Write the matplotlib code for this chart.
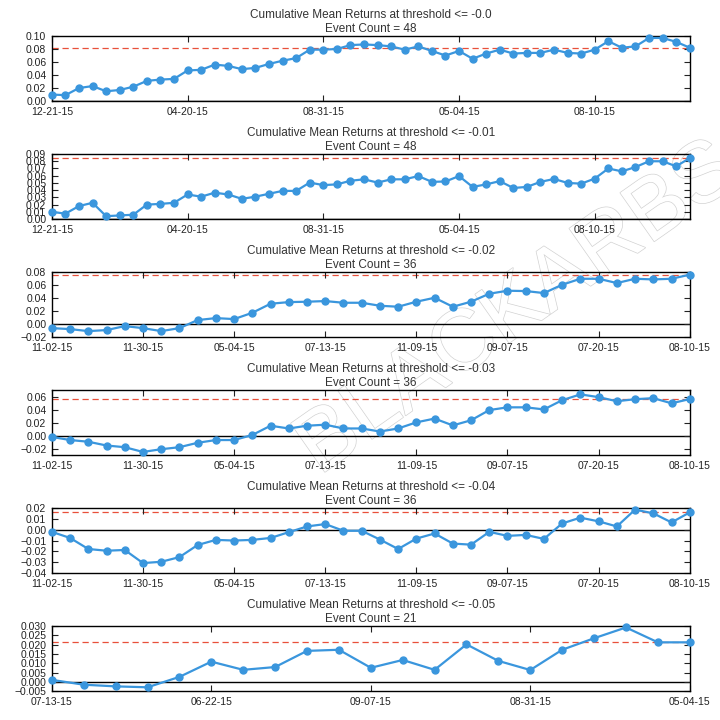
import matplotlib
matplotlib.use("Agg")
import numpy as np
import matplotlib.pyplot as plt
import matplotlib.patheffects as pe

plt.rcParams["font.family"] = ["Liberation Sans", "DejaVu Sans"]

# ---------- data ----------

thresholds = ["-0.0", "-0.01", "-0.02", "-0.03", "-0.04", "-0.05"]
event_counts = [48, 48, 36, 36, 36, 21]

ret_00 = [0.010, 0.009, 0.020, 0.023, 0.015, 0.017, 0.022, 0.031, 0.033, 0.034,
          0.047, 0.048, 0.056, 0.054, 0.049, 0.051, 0.057, 0.062, 0.066, 0.079,
          0.079, 0.080, 0.086, 0.087, 0.086, 0.084, 0.079, 0.084, 0.077, 0.070,
          0.077, 0.065, 0.073, 0.079, 0.073, 0.074, 0.074, 0.079, 0.074, 0.073,
          0.079, 0.092, 0.082, 0.084, 0.097, 0.097, 0.091, 0.082]
ret_01 = [0.010, 0.0075, 0.018, 0.0225, 0.004, 0.005, 0.006, 0.020, 0.021, 0.0225,
          0.034, 0.031, 0.0365, 0.034, 0.028, 0.031, 0.035, 0.039, 0.039, 0.0505,
          0.047, 0.048, 0.053, 0.055, 0.0505, 0.055, 0.055, 0.0595, 0.0515, 0.052,
          0.0595, 0.0445, 0.048, 0.0525, 0.043, 0.0445, 0.0515, 0.0555, 0.050, 0.049,
          0.056, 0.070, 0.066, 0.072, 0.080, 0.080, 0.073, 0.0845]
ret_02 = [-0.0062, -0.0077, -0.0108, -0.0092, -0.0031, -0.0062, -0.0108, -0.0062,
          0.0062, 0.0092, 0.0077, 0.0174, 0.0313, 0.0338, 0.0344, 0.0354, 0.0328,
          0.0328, 0.0282, 0.0267, 0.0344, 0.0405, 0.0267, 0.0344, 0.0467, 0.0513,
          0.0508, 0.0477, 0.0605, 0.0697, 0.0697, 0.0631, 0.0697, 0.0687, 0.0697,
          0.0760]
ret_03 = [-0.002, -0.0068, -0.0094, -0.0152, -0.0178, -0.0251, -0.0209, -0.0178,
          -0.011, -0.0068, -0.0068, 0.001, 0.0152, 0.011, 0.0152, 0.0168, 0.011,
          0.011, 0.0063, 0.011, 0.0204, 0.0262, 0.0157, 0.0236, 0.0393, 0.0435,
          0.0435, 0.0403, 0.0545, 0.0634, 0.0592, 0.0529, 0.056, 0.0576, 0.0497,
          0.0562]
ret_04 = [-0.0019, -0.0075, -0.0177, -0.0193, -0.0186, -0.0307, -0.0295, -0.0252,
          -0.014, -0.0093, -0.0099, -0.0093, -0.0075, -0.0022, 0.0031, 0.0053,
          -0.0009, -0.0009, -0.009, -0.0177, -0.0081, -0.0034, -0.0127, -0.0137,
          -0.0019, -0.0056, -0.0047, -0.0084, 0.0059, 0.0112, 0.0078, 0.0031,
          0.0186, 0.0152, 0.0068, 0.0161]
ret_05 = [0.0011, -0.0015, -0.0024, -0.0029, 0.0027, 0.0109, 0.0065, 0.0080,
          0.0167, 0.0173, 0.0076, 0.0118, 0.0065, 0.0202, 0.0113, 0.0064, 0.0173,
          0.0235, 0.0293, 0.0213, 0.0213]

series = [ret_00, ret_01, ret_02, ret_03, ret_04, ret_05]

labels_48 = ["12-21-15", "04-20-15", "08-31-15", "05-04-15", "08-10-15"]
labels_36 = ["11-02-15", "11-30-15", "05-04-15", "07-13-15", "11-09-15",
             "09-07-15", "07-20-15", "08-10-15"]
labels_21 = ["07-13-15", "06-22-15", "09-07-15", "08-31-15", "05-04-15"]
tick_labels = [labels_48, labels_48, labels_36, labels_36, labels_36, labels_21]

ylims = [(0.0, 0.10), (0.0, 0.09), (-0.02, 0.08), (-0.03, 0.07), (-0.04, 0.02), (-0.005, 0.030)]
ysteps = [0.02, 0.01, 0.02, 0.02, 0.01, 0.005]

# ---------- figure ----------

fig, axes = plt.subplots(6, 1, figsize=(7.2, 7.2), dpi=100)
fig.patch.set_facecolor("white")
fig.subplots_adjust(left=0.072, right=0.958, top=0.95, bottom=0.040, hspace=0.815)

line_color = "#3a96dd"

for ax, vals, thr, cnt, labs, ylim, ystep in zip(axes, series, thresholds, event_counts,
                                                 tick_labels, ylims, ysteps):
    x = np.arange(len(vals))
    ax.patch.set_alpha(0)
    ax.axhline(0, color="black", lw=1.0, zorder=1)
    ax.axhline(vals[-1], color="#e8503a", lw=0.9, ls=(0, (5, 3)), zorder=1)
    ax.plot(x, vals, color=line_color, lw=1.6, marker="o", ms=5,
            mec=line_color, zorder=3, clip_on=False)

    ax.set_xlim(0, len(vals) - 1)
    step = 10 if len(vals) > 40 else 5
    ax.set_xticks(np.arange(0, len(vals), step))
    ax.set_xticklabels(labs)

    ax.set_ylim(*ylim)
    n_lo = int(np.ceil(round(ylim[0] / ystep, 6)))
    n_hi = int(np.floor(round(ylim[1] / ystep, 6)))
    yt = np.round(np.arange(n_lo, n_hi + 1) * ystep, 6) + 0.0
    ax.set_yticks(yt)
    decimals = 3 if ystep < 0.01 else 2
    ax.set_yticklabels([f"{v:.{decimals}f}".replace("-", "\u2212") if abs(v) > 1e-12
                        else f"{0:.{decimals}f}" for v in yt])

    ax.tick_params(direction="in", top=True, right=True, length=4, width=0.8,
                   labelsize=7.5, colors="#222222", pad=4)
    for sp in ax.spines.values():
        sp.set_linewidth(1.0)

    ax.set_title(f"Cumulative Mean Returns at threshold <= {thr}\nEvent Count = {cnt}",
                 fontsize=8.5, color="#333333", linespacing=1.2, pad=3)

# watermark, drawn behind the (transparent) axes
fig.text(0.72, 0.57, "BLACKARBS", fontsize=62, rotation=35, ha="center", va="center",
         color="white", zorder=-1,
         path_effects=[pe.withStroke(linewidth=1.0, foreground="#d2d2d2")])

fig.savefig("out.png", dpi=100, facecolor="white")
